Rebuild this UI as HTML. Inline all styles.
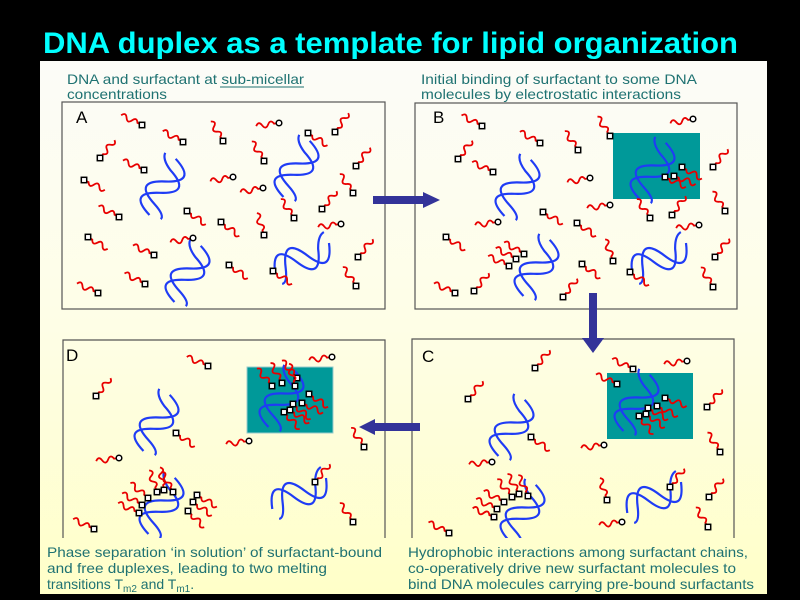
<!DOCTYPE html>
<html><head><meta charset="utf-8"><style>
html,body{margin:0;padding:0;background:#000;}
svg{display:block;}
</style></head><body>
<svg width="800" height="600" viewBox="0 0 800 600" xmlns="http://www.w3.org/2000/svg">
<defs>
<linearGradient id="bg" gradientUnits="userSpaceOnUse" x1="0" y1="61" x2="0" y2="594">
<stop offset="0" stop-color="#fcfcf8"/>
<stop offset="0.5" stop-color="#fefee6"/>
<stop offset="1" stop-color="#ffffc8"/>
</linearGradient>
<path id="t" d="M-23,0 c2,-3.5 4,-3.5 6,0 s4,3.5 6,0 s4,-3.5 6,0 l2,0" fill="none" stroke="#e80000" stroke-width="1.8"/>
<rect id="q" x="-2.7" y="-2.7" width="5.4" height="5.4" fill="#fff" stroke="#000" stroke-width="1.5"/>
<circle id="o" r="2.8" fill="#fff" stroke="#000" stroke-width="1.5"/>
<g id="h" fill="none" stroke="#1f3cf5" stroke-width="2.2">
<path d="M0,-30 Q30,-17.5 0,-5 Q-30,7.5 0,20 Q14,26 12,31"/>
<path d="M-12,-31 Q-12,-24 0,-17.5 Q30,-5 0,7.5 Q-30,20 0,32"/>
</g>
</defs>

<text x="43" y="53" font-family="Liberation Sans, sans-serif" font-size="30" font-weight="bold" fill="#00ffff" textLength="695" lengthAdjust="spacingAndGlyphs">DNA duplex as a template for lipid organization</text>

<rect x="40" y="61" width="727" height="533" fill="url(#bg)"/>

<g font-family="Liberation Sans, sans-serif" font-size="14" fill="#1f7272">
<text x="67" y="84" textLength="237" lengthAdjust="spacingAndGlyphs">DNA and surfactant at sub-micellar</text>
<text x="67" y="99" textLength="100" lengthAdjust="spacingAndGlyphs">concentrations</text>
<text x="421" y="84" textLength="276" lengthAdjust="spacingAndGlyphs">Initial binding of surfactant to some DNA</text>
<text x="421" y="99" textLength="260" lengthAdjust="spacingAndGlyphs">molecules by electrostatic interactions</text>
</g>
<line x1="220" y1="87" x2="304" y2="87" stroke="#1f7272" stroke-width="1"/>

<g fill="none" stroke="#555" stroke-width="1.2">
<rect x="62" y="102" width="323" height="207"/>
<rect x="415" y="103" width="322" height="206"/>
<path d="M63,545 L63,340 L385,340 L385,545"/>
<path d="M412,545 L412,339 L734,339 L734,545"/>
</g>

<rect x="613" y="133" width="87" height="66" fill="#009999"/>
<rect x="607" y="373" width="86" height="66" fill="#009999"/>
<rect x="247" y="367" width="86" height="66" fill="#009999" stroke="#9cc" stroke-width="1"/>

<use href="#h" transform="translate(163,186) rotate(25)"/>
<use href="#h" transform="translate(297,168) rotate(25)"/>
<use href="#h" transform="translate(188,273) rotate(25)"/>
<use href="#h" transform="translate(303,258) rotate(60)"/>
<use href="#h" transform="translate(518,187) rotate(25)"/>
<use href="#h" transform="translate(653,170) rotate(25)"/>
<use href="#h" transform="translate(537,267) rotate(25)"/>
<use href="#h" transform="translate(660,258) rotate(60)"/>
<use href="#h" transform="translate(512,427) rotate(25)"/>
<use href="#h" transform="translate(637,402) rotate(25)"/>
<use href="#h" transform="translate(523,512) rotate(25)"/>
<use href="#h" transform="translate(655,497) rotate(60)"/>
<use href="#h" transform="translate(157,422) rotate(25)"/>
<use href="#h" transform="translate(282,398) rotate(25)"/>
<use href="#h" transform="translate(162,505) rotate(25)"/>
<use href="#h" transform="translate(300,493) rotate(60)"/>

<!-- Panel A -->
<use href="#t" transform="translate(142,125) rotate(25)"/><use href="#q" x="142" y="125"/>
<use href="#t" transform="translate(183,142) rotate(28)"/><use href="#q" x="183" y="142"/>
<use href="#t" transform="translate(223,141) rotate(58)"/><use href="#q" x="223" y="141"/>
<use href="#t" transform="translate(279,123) rotate(-8)"/><use href="#o" x="279" y="123"/>
<use href="#t" transform="translate(308,133) rotate(212)"/><use href="#q" x="308" y="133"/>
<use href="#t" transform="translate(335,132) rotate(125)"/><use href="#q" x="335" y="132"/>
<use href="#t" transform="translate(100,158) rotate(129)"/><use href="#q" x="100" y="158"/>
<use href="#t" transform="translate(144,170) rotate(24)"/><use href="#q" x="144" y="170"/>
<use href="#t" transform="translate(264,161) rotate(58)"/><use href="#q" x="264" y="161"/>
<use href="#t" transform="translate(356,166) rotate(127)"/><use href="#q" x="356" y="166"/>
<use href="#t" transform="translate(84,180) rotate(205)"/><use href="#q" x="84" y="180"/>
<use href="#t" transform="translate(233,177) rotate(-11)"/><use href="#o" x="233" y="177"/>
<use href="#t" transform="translate(263,188) rotate(-11)"/><use href="#o" x="263" y="188"/>
<use href="#t" transform="translate(353,193) rotate(55)"/><use href="#q" x="353" y="193"/>
<use href="#t" transform="translate(322,209) rotate(129)"/><use href="#q" x="322" y="209"/>
<use href="#t" transform="translate(119,217) rotate(27)"/><use href="#q" x="119" y="217"/>
<use href="#t" transform="translate(187,211) rotate(215)"/><use href="#q" x="187" y="211"/>
<use href="#t" transform="translate(221,222) rotate(217)"/><use href="#q" x="221" y="222"/>
<use href="#t" transform="translate(294,218) rotate(55)"/><use href="#q" x="294" y="218"/>
<use href="#t" transform="translate(341,224) rotate(-8)"/><use href="#o" x="341" y="224"/>
<use href="#t" transform="translate(88,237) rotate(211)"/><use href="#q" x="88" y="237"/>
<use href="#t" transform="translate(193,238) rotate(-11)"/><use href="#o" x="193" y="238"/>
<use href="#t" transform="translate(264,235) rotate(72)"/><use href="#q" x="264" y="235"/>
<use href="#t" transform="translate(154,255) rotate(24)"/><use href="#q" x="154" y="255"/>
<use href="#t" transform="translate(358,257) rotate(129)"/><use href="#q" x="358" y="257"/>
<use href="#t" transform="translate(229,265) rotate(215)"/><use href="#q" x="229" y="265"/>
<use href="#t" transform="translate(273,271) rotate(214)"/><use href="#q" x="273" y="271"/>
<use href="#t" transform="translate(145,284) rotate(27)"/><use href="#q" x="145" y="284"/>
<use href="#t" transform="translate(98,293) rotate(24)"/><use href="#q" x="98" y="293"/>
<use href="#t" transform="translate(356,286) rotate(55)"/><use href="#q" x="356" y="286"/>

<!-- Panel B -->
<use href="#t" transform="translate(482,126) rotate(27)"/><use href="#q" x="482" y="126"/>
<use href="#t" transform="translate(540,143) rotate(29)"/><use href="#q" x="540" y="143"/>
<use href="#t" transform="translate(578,150) rotate(55)"/><use href="#q" x="578" y="150"/>
<use href="#t" transform="translate(610,136) rotate(57)"/><use href="#q" x="610" y="136"/>
<use href="#t" transform="translate(693,119) rotate(-11)"/><use href="#o" x="693" y="119"/>
<use href="#t" transform="translate(458,159) rotate(127)"/><use href="#q" x="458" y="159"/>
<use href="#t" transform="translate(493,172) rotate(25)"/><use href="#q" x="493" y="172"/>
<use href="#t" transform="translate(590,178) rotate(-11)"/><use href="#o" x="590" y="178"/>
<use href="#t" transform="translate(713,167) rotate(129)"/><use href="#q" x="713" y="167"/>
<use href="#t" transform="translate(543,212) rotate(210)"/><use href="#q" x="543" y="212"/>
<use href="#t" transform="translate(610,205) rotate(-8)"/><use href="#o" x="610" y="205"/>
<use href="#t" transform="translate(650,218) rotate(55)"/><use href="#q" x="650" y="218"/>
<use href="#t" transform="translate(672,215) rotate(125)"/><use href="#q" x="672" y="215"/>
<use href="#t" transform="translate(725,211) rotate(57)"/><use href="#q" x="725" y="211"/>
<use href="#t" transform="translate(498,222) rotate(-8)"/><use href="#o" x="498" y="222"/>
<use href="#t" transform="translate(577,223) rotate(214)"/><use href="#q" x="577" y="223"/>
<use href="#t" transform="translate(699,225) rotate(-8)"/><use href="#o" x="699" y="225"/>
<use href="#t" transform="translate(446,237) rotate(213)"/><use href="#q" x="446" y="237"/>
<use href="#t" transform="translate(613,261) rotate(70)"/><use href="#q" x="613" y="261"/>
<use href="#t" transform="translate(715,257) rotate(127)"/><use href="#q" x="715" y="257"/>
<use href="#t" transform="translate(582,264) rotate(217)"/><use href="#q" x="582" y="264"/>
<use href="#t" transform="translate(630,272) rotate(214)"/><use href="#q" x="630" y="272"/>
<use href="#t" transform="translate(455,293) rotate(24)"/><use href="#q" x="455" y="293"/>
<use href="#t" transform="translate(474,291) rotate(129)"/><use href="#q" x="474" y="291"/>
<use href="#t" transform="translate(563,297) rotate(127)"/><use href="#q" x="563" y="297"/>
<use href="#t" transform="translate(713,287) rotate(58)"/><use href="#q" x="713" y="287"/>
<use href="#t" transform="translate(524,254) rotate(30)"/><use href="#q" x="524" y="254"/>
<use href="#t" transform="translate(516,259) rotate(28)"/><use href="#q" x="516" y="259"/>
<use href="#t" transform="translate(509,266) rotate(25)"/><use href="#q" x="509" y="266"/>
<use href="#t" transform="translate(665,177) rotate(205)"/><use href="#q" x="665" y="177"/>
<use href="#t" transform="translate(674,176) rotate(200)"/><use href="#q" x="674" y="176"/>
<use href="#t" transform="translate(682,167) rotate(210)"/><use href="#q" x="682" y="167"/>

<!-- Panel C -->
<use href="#t" transform="translate(535,368) rotate(129)"/><use href="#q" x="535" y="368"/>
<use href="#t" transform="translate(633,369) rotate(25)"/><use href="#q" x="633" y="369"/>
<use href="#t" transform="translate(687,361) rotate(-8)"/><use href="#o" x="687" y="361"/>
<use href="#t" transform="translate(617,384) rotate(24)"/><use href="#q" x="617" y="384"/>
<use href="#t" transform="translate(468,399) rotate(129)"/><use href="#q" x="468" y="399"/>
<use href="#t" transform="translate(707,407) rotate(130)"/><use href="#q" x="707" y="407"/>
<use href="#t" transform="translate(531,437) rotate(215)"/><use href="#q" x="531" y="437"/>
<use href="#t" transform="translate(604,445) rotate(-8)"/><use href="#o" x="604" y="445"/>
<use href="#t" transform="translate(720,452) rotate(57)"/><use href="#q" x="720" y="452"/>
<use href="#t" transform="translate(492,462) rotate(-6)"/><use href="#o" x="492" y="462"/>
<use href="#t" transform="translate(607,500) rotate(72)"/><use href="#q" x="607" y="500"/>
<use href="#t" transform="translate(670,487) rotate(127)"/><use href="#q" x="670" y="487"/>
<use href="#t" transform="translate(709,497) rotate(127)"/><use href="#q" x="709" y="497"/>
<use href="#t" transform="translate(622,522) rotate(-8)"/><use href="#o" x="622" y="522"/>
<use href="#t" transform="translate(708,527) rotate(58)"/><use href="#q" x="708" y="527"/>
<use href="#t" transform="translate(449,533) rotate(27)"/><use href="#q" x="449" y="533"/>
<use href="#t" transform="translate(648,408) rotate(209)"/><use href="#q" x="648" y="408"/>
<use href="#t" transform="translate(646,414) rotate(215)"/><use href="#q" x="646" y="414"/>
<use href="#t" transform="translate(639,416) rotate(231)"/><use href="#q" x="639" y="416"/>
<use href="#t" transform="translate(657,406) rotate(205)"/><use href="#q" x="657" y="406"/>
<use href="#t" transform="translate(665,398) rotate(200)"/><use href="#q" x="665" y="398"/>
<use href="#t" transform="translate(504,502) rotate(28)"/><use href="#q" x="504" y="502"/>
<use href="#t" transform="translate(497,509) rotate(25)"/><use href="#q" x="497" y="509"/>
<use href="#t" transform="translate(494,517) rotate(22)"/><use href="#q" x="494" y="517"/>
<use href="#t" transform="translate(512,497) rotate(50)"/><use href="#q" x="512" y="497"/>
<use href="#t" transform="translate(519,494) rotate(60)"/><use href="#q" x="519" y="494"/>
<use href="#t" transform="translate(528,496) rotate(65)"/><use href="#q" x="528" y="496"/>

<!-- Panel D -->
<use href="#t" transform="translate(208,366) rotate(23)"/><use href="#q" x="208" y="366"/>
<use href="#t" transform="translate(332,357) rotate(-8)"/><use href="#o" x="332" y="357"/>
<use href="#t" transform="translate(96,396) rotate(129)"/><use href="#q" x="96" y="396"/>
<use href="#t" transform="translate(176,433) rotate(215)"/><use href="#q" x="176" y="433"/>
<use href="#t" transform="translate(249,441) rotate(-8)"/><use href="#o" x="249" y="441"/>
<use href="#t" transform="translate(364,447) rotate(56)"/><use href="#q" x="364" y="447"/>
<use href="#t" transform="translate(119,458) rotate(-8)"/><use href="#o" x="119" y="458"/>
<use href="#t" transform="translate(315,482) rotate(129)"/><use href="#q" x="315" y="482"/>
<use href="#t" transform="translate(353,522) rotate(55)"/><use href="#q" x="353" y="522"/>
<use href="#t" transform="translate(94,529) rotate(25)"/><use href="#q" x="94" y="529"/>
<use href="#t" transform="translate(297,378) rotate(49)"/><use href="#q" x="297" y="378"/>
<use href="#t" transform="translate(282,383) rotate(60)"/><use href="#q" x="282" y="383"/>
<use href="#t" transform="translate(272,386) rotate(49)"/><use href="#q" x="272" y="386"/>
<use href="#t" transform="translate(295,386) rotate(75)"/><use href="#q" x="295" y="386"/>
<use href="#t" transform="translate(309,394) rotate(214)"/><use href="#q" x="309" y="394"/>
<use href="#t" transform="translate(302,403) rotate(204)"/><use href="#q" x="302" y="403"/>
<use href="#t" transform="translate(293,404) rotate(220)"/><use href="#q" x="293" y="404"/>
<use href="#t" transform="translate(290,410) rotate(213)"/><use href="#q" x="290" y="410"/>
<use href="#t" transform="translate(284,412) rotate(227)"/><use href="#q" x="284" y="412"/>
<use href="#t" transform="translate(157,492) rotate(70)"/><use href="#q" x="157" y="492"/>
<use href="#t" transform="translate(164,490) rotate(80)"/><use href="#q" x="164" y="490"/>
<use href="#t" transform="translate(173,492) rotate(60)"/><use href="#q" x="173" y="492"/>
<use href="#t" transform="translate(148,498) rotate(40)"/><use href="#q" x="148" y="498"/>
<use href="#t" transform="translate(142,505) rotate(30)"/><use href="#q" x="142" y="505"/>
<use href="#t" transform="translate(139,513) rotate(25)"/><use href="#q" x="139" y="513"/>
<use href="#t" transform="translate(197,495) rotate(210)"/><use href="#q" x="197" y="495"/>
<use href="#t" transform="translate(193,502) rotate(215)"/><use href="#q" x="193" y="502"/>
<use href="#t" transform="translate(188,511) rotate(225)"/><use href="#q" x="188" y="511"/>

<rect x="40" y="538" width="727" height="56" fill="url(#bg)"/>

<g font-family="Liberation Sans, sans-serif" font-size="17" fill="#000">
<text x="76" y="123">A</text>
<text x="433" y="123">B</text>
<text x="66" y="361">D</text>
<text x="422" y="362">C</text>
</g>

<g fill="#333399">
<polygon points="373,196 423,196 423,192 440,200 423,208 423,204 373,204"/>
<polygon points="589,293 597,293 597,338 604,338 593,353 582,338 589,338"/>
<polygon points="420,423 375,423 375,419 359,427 375,435 375,431 420,431"/>
</g>

<g font-family="Liberation Sans, sans-serif" font-size="14" fill="#1f7272">
<text x="47" y="557" textLength="335" lengthAdjust="spacingAndGlyphs">Phase separation ‘in solution’ of surfactant-bound</text>
<text x="47" y="573" textLength="280" lengthAdjust="spacingAndGlyphs">and free duplexes, leading to two melting</text>
<text x="47" y="589">transitions T<tspan font-size="10" dy="3">m2</tspan><tspan dy="-3"> and T</tspan><tspan font-size="10" dy="3">m1</tspan><tspan dy="-3">.</tspan></text>
<text x="408" y="557" textLength="340" lengthAdjust="spacingAndGlyphs">Hydrophobic interactions among surfactant chains,</text>
<text x="408" y="573" textLength="328" lengthAdjust="spacingAndGlyphs">co-operatively drive new surfactant molecules to</text>
<text x="408" y="589" textLength="346" lengthAdjust="spacingAndGlyphs">bind DNA molecules carrying pre-bound surfactants</text>
</g>
</svg>
</body></html>
